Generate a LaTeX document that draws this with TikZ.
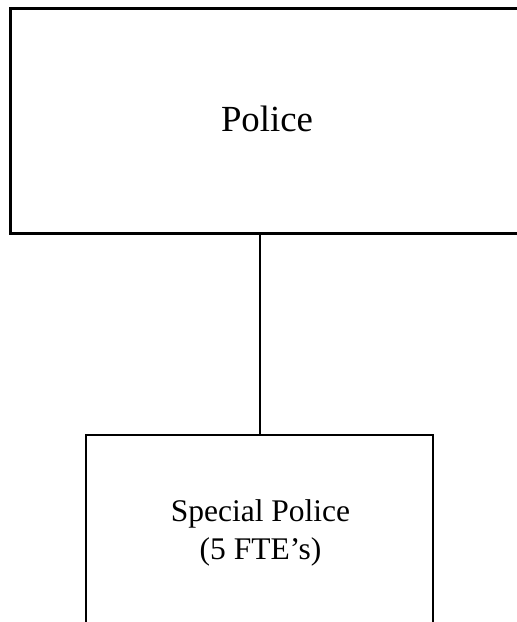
\documentclass[tikz,border=0pt]{standalone}
\usepackage{fontspec}
\setmainfont{Liberation Serif}
\begin{document}
\begin{tikzpicture}[x=1pt,y=1pt,
  box/.style={draw=black,rectangle,inner sep=0pt,outer sep=0pt,anchor=north west},
  lbl/.style={inner sep=0pt,anchor=base},
  conn/.style={draw=black,line width=2pt}]
\useasboundingbox (0,0) rectangle (517,622);
\clip (0,0) rectangle (517,622);
\node[box,line width=3pt,minimum width=530pt,minimum height=225pt] (top) at (10,613) {};
\node[box,line width=2pt,minimum width=347pt,minimum height=220pt] (bot) at (86,187) {};
\node[lbl,font=\fontsize{36.8}{44}\selectfont] (ptext) at (267,490) {Police};
\node[lbl,font=\fontsize{31.5}{37}\selectfont] (stext1) at (260.5,100) {Special Police};
\node[lbl,font=\fontsize{31.5}{37}\selectfont] (stext2) at (260.5,63) {(5 FTE’s)};
\draw[conn] (bot.north |- top.south) -- (bot.north);
\end{tikzpicture}
\end{document}
